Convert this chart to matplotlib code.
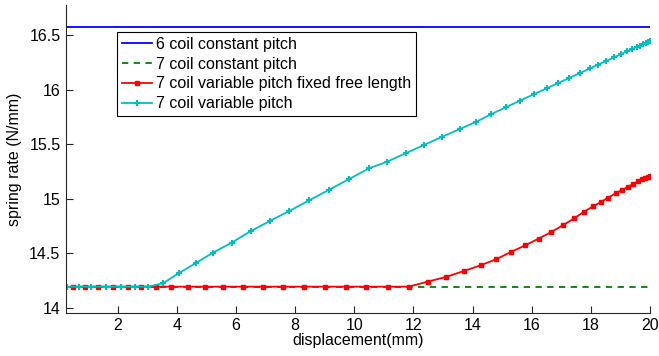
import matplotlib
matplotlib.use("Agg")
import matplotlib.pyplot as plt

plt.rcParams['font.family'] = ['Liberation Sans', 'DejaVu Sans']

# Spring rate data (N/mm) vs displacement (mm)
rate_6coil_const = 16.578
rate_7coil_const = 14.193
x_range = [0.25, 20.0]

x_var_fixed = [0.49, 0.88, 1.33, 1.84, 2.35, 2.80, 3.29, 3.79, 4.36, 4.94,
               5.56, 6.22, 6.90, 7.59, 8.29, 9.00, 9.71, 10.41, 11.14, 11.84,
               12.48, 13.10, 13.71, 14.27, 14.79, 15.30, 15.78, 16.23, 16.66, 17.05,
               17.44, 17.77, 18.08, 18.34, 18.59, 18.84, 19.06, 19.26, 19.43, 19.60,
               19.74, 19.84, 19.93, 20.00]
k_var_fixed = [14.193] * 20 + [
               14.239, 14.282, 14.337, 14.389, 14.444, 14.511, 14.572, 14.633, 14.694, 14.756,
               14.820, 14.881, 14.930, 14.970, 15.010, 15.050, 15.080, 15.110, 15.135, 15.160,
               15.180, 15.190, 15.200, 15.210]

x_var = [0.285, 0.69, 1.11, 1.59, 2.10, 2.58, 3.03, 3.53, 4.06, 4.63,
         5.22, 5.85, 6.49, 7.14, 7.80, 8.47, 9.14, 9.81, 10.50, 11.11,
         11.74, 12.36, 12.98, 13.57, 14.13, 14.62, 15.13, 15.60, 16.07, 16.51,
         16.89, 17.26, 17.63, 17.97, 18.24, 18.51, 18.78, 19.02, 19.22, 19.39,
         19.56, 19.66, 19.76, 19.86, 19.93, 20.00]
k_var = [14.193] * 7 + [
         14.224, 14.316, 14.407, 14.505, 14.596, 14.701, 14.795, 14.887, 14.984, 15.081,
         15.178, 15.279, 15.339, 15.417, 15.493, 15.569, 15.639, 15.706, 15.774, 15.839,
         15.899, 15.958, 16.013, 16.060, 16.106, 16.152, 16.195, 16.229, 16.262, 16.296,
         16.326, 16.351, 16.372, 16.393, 16.405, 16.418, 16.430, 16.439, 16.447]

labels = ["6 coil constant pitch", "7 coil constant pitch",
          "7 coil variable pitch fixed free length", "7 coil variable pitch"]

FS = 11.5

fig = plt.figure(figsize=(6.59, 3.56), dpi=100)
ax = fig.add_axes([0.1002, 0.1216, 0.8861, 0.8644])

ax.plot(x_range, [rate_6coil_const] * 2, color=(0, 0, 1), lw=1.3, label=labels[0])
ax.plot(x_range, [rate_7coil_const] * 2, color=(0, 0.5, 0), lw=1.3, ls=(0, (3.5, 3)),
        label=labels[1])
ax.plot(x_var_fixed, k_var_fixed, color=(1, 0, 0), lw=1.3, marker='s', ms=3,
        label=labels[2])
ax.plot(x_var, k_var, color=(0, 0.75, 0.75), lw=1.3, marker='+', ms=5, mew=1.5,
        label=labels[3])

ax.set_xlim(0.25, 20.0)
ax.set_ylim(13.954, 16.777)
ax.set_xticks([2, 4, 6, 8, 10, 12, 14, 16, 18, 20])
ax.set_yticks([14, 14.5, 15, 15.5, 16, 16.5])
ax.set_yticklabels(["14", "14.5", "15", "15.5", "16", "16.5"])
ax.tick_params(direction='in', length=5, width=0.8, labelsize=FS, colors='#262626',
               labelcolor='black', pad=4)
ax.spines['top'].set_visible(False)
ax.spines['right'].set_visible(False)
for s in ('left', 'bottom'):
    ax.spines[s].set_color('#262626')
    ax.spines[s].set_linewidth(0.8)

ax.set_xlabel("displacement(mm)", fontsize=FS, labelpad=0)
ax.set_ylabel("spring rate (N/mm)", fontsize=FS, labelpad=5)

leg = ax.legend(loc='upper left', bbox_to_anchor=(0.0873, 0.912), fontsize=FS,
                frameon=True, fancybox=False, edgecolor='black', framealpha=1,
                handlelength=1.9, handletextpad=0.25, labelspacing=0.3,
                borderpad=0.3, borderaxespad=0)
leg.get_frame().set_linewidth(0.8)

fig.savefig("out.png", dpi=100)
